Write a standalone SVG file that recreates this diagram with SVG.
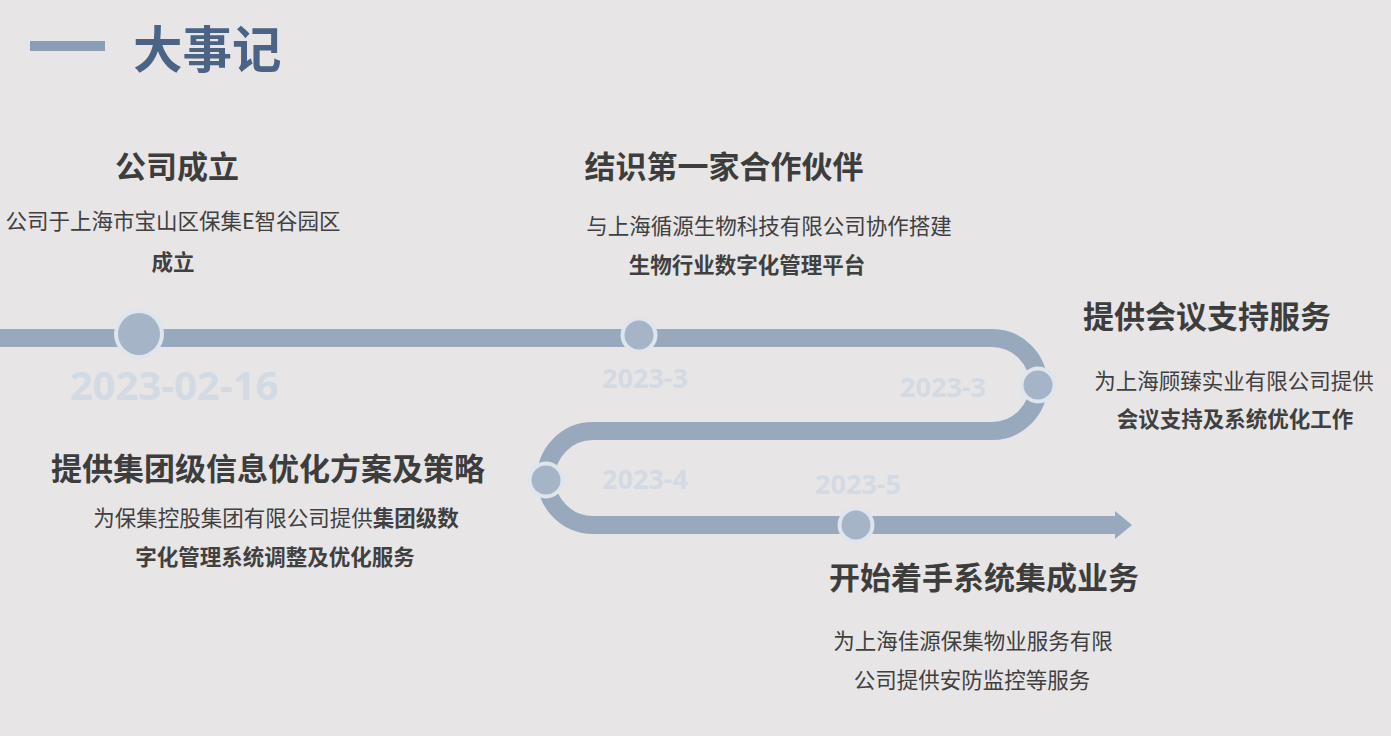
<svg xmlns="http://www.w3.org/2000/svg" width="1391" height="736" viewBox="0 0 1391 736">
<defs>
<style>
.bg{fill:#e7e5e6}
.track{fill:none;stroke:#98a8bd;stroke-width:18}
.ring{fill:#dfe5ec}
.dot{fill:#a6b4c7}
.date{font-family:"Noto Sans","Open Sans","DejaVu Sans",sans-serif;font-weight:bold;fill:#d3dae3;text-anchor:middle}
.h{font-family:"Noto Sans CJK SC",sans-serif;font-weight:bold;font-size:31px;fill:#3d3d3d;text-anchor:middle}
.t{font-family:"Noto Sans CJK SC",sans-serif;font-size:21.5px;fill:#404040;text-anchor:middle}
.b{font-weight:bold}
</style>
</defs>
<rect class="bg" x="0" y="0" width="1391" height="736"/>
<g id="title">
<rect x="30" y="41" width="75" height="10" fill="#8a9db5"/>
<text x="133" y="68" font-family="Noto Sans CJK SC, sans-serif" font-weight="bold" font-size="49.5" fill="#4b6384">大事记</text>
</g>
<g id="connectors">
<path class="track" d="M0,338 H992 A46.5,46.5 0 0 1 992,431 H593 A47,47 0 0 0 593,525 H1116"/>
<polygon points="1115,511 1132,525 1115,539" fill="#98a8bd"/>
</g>
<g id="event1">
<circle class="ring" cx="139" cy="334" r="25"/>
<circle class="dot" cx="139" cy="334" r="21"/>
<text class="date" x="174" y="400" font-size="40">2023-02-16</text>
<text class="h" x="177" y="178">公司成立</text>
<text class="t" x="173" y="229">公司于上海市宝山区保集E智谷园区</text>
<text class="t b" x="173" y="270">成立</text>
</g>
<g id="event2">
<circle class="ring" cx="639" cy="335" r="18.5"/>
<circle class="dot" cx="639" cy="335" r="14.5"/>
<text class="date" x="645" y="388" font-size="27">2023-3</text>
<text class="h" x="724" y="178">结识第一家合作伙伴</text>
<text class="t" x="769" y="234">与上海循源生物科技有限公司协作搭建</text>
<text class="t b" x="747" y="273">生物行业数字化管理平台</text>
</g>
<g id="event3">
<circle class="ring" cx="1038" cy="385" r="18.5"/>
<circle class="dot" cx="1038" cy="385" r="14.5"/>
<text class="date" x="943" y="397" font-size="27">2023-3</text>
<text class="h" x="1207" y="328">提供会议支持服务</text>
<text class="t" x="1234" y="389">为上海顾臻实业有限公司提供</text>
<text class="t b" x="1235" y="427">会议支持及系统优化工作</text>
</g>
<g id="event4">
<circle class="ring" cx="546" cy="480" r="18.5"/>
<circle class="dot" cx="546" cy="480" r="14.5"/>
<text class="date" x="645" y="489" font-size="27">2023-4</text>
<text class="h" x="268" y="480">提供集团级信息优化方案及策略</text>
<text class="t" x="276" y="526">为保集控股集团有限公司提供<tspan class="b">集团级数</tspan></text>
<text class="t b" x="275" y="565">字化管理系统调整及优化服务</text>
</g>
<g id="event5">
<circle class="ring" cx="856" cy="525" r="18.5"/>
<circle class="dot" cx="856" cy="525" r="14.5"/>
<text class="date" x="858" y="494" font-size="27">2023-5</text>
<text class="h" x="984" y="589">开始着手系统集成业务</text>
<text class="t" x="973" y="649">为上海佳源保集物业服务有限</text>
<text class="t" x="972" y="688">公司提供安防监控等服务</text>
</g>
</svg>
